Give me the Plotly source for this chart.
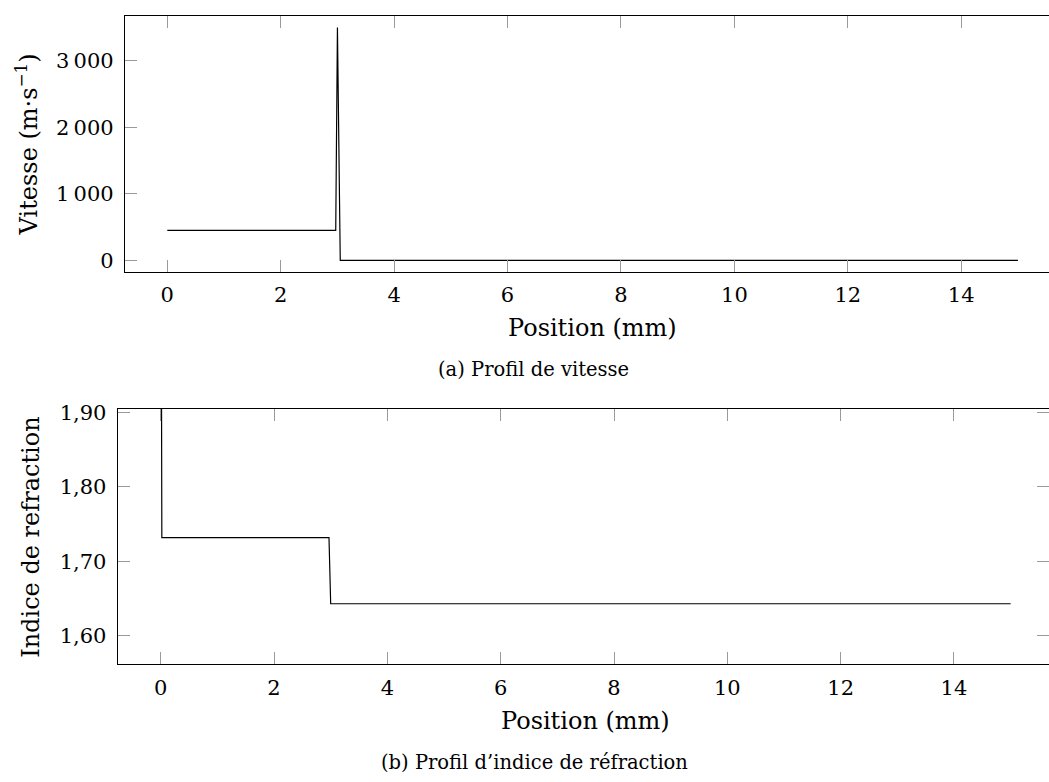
import plotly.graph_objects as go

# ---- data ----
pos_v = [0, 2.97, 3.0, 3.05, 15]
vitesse = [450, 450, 3500, 0, 0]

pos_n = [0, 0.02, 2.97, 3.0, 15]
indice = [2.42, 1.732, 1.732, 1.643, 1.643]

x_ticks = [0, 2, 4, 6, 8, 10, 12, 14]
x_ticktext = ["0", "2", "4", "6", "8", "10", "12", "14"]
v_ticks = [0, 1000, 2000, 3000]
v_ticktext = ["0", "1\u2009000", "2\u2009000", "3\u2009000"]
n_ticks = [1.6, 1.7, 1.8, 1.9]
n_ticktext = ["1,60", "1,70", "1,80", "1,90"]

W, H = 1049, 782
FONT = "DejaVu Serif"
TICKCOL = "#9a9a9a"


def px(x):
    return x / W


def py(y):
    return 1 - y / H


fig = go.Figure()
fig.add_trace(go.Scatter(x=pos_v, y=vitesse, mode="lines",
                         line=dict(color="black", width=1.2),
                         xaxis="x", yaxis="y", showlegend=False))
fig.add_trace(go.Scatter(x=pos_n, y=indice, mode="lines",
                         line=dict(color="black", width=1.2),
                         xaxis="x2", yaxis="y2", showlegend=False))
fig.add_trace(go.Scatter(x=[None], y=[None], mode="lines",
                         xaxis="x2", yaxis="y3", showlegend=False,
                         hoverinfo="skip"))

common_x = dict(showgrid=False, zeroline=False, showline=True, linecolor="black",
                linewidth=1.2, mirror="ticks", ticks="inside", ticklen=12,
                tickcolor=TICKCOL, tickwidth=1, tickvals=x_ticks,
                ticktext=x_ticktext, tickfont=dict(family=FONT, size=21, color="black"),
                ticklabelstandoff=4)
common_y = dict(showgrid=False, zeroline=False, showline=True, linecolor="black",
                linewidth=1.2, mirror=False, ticks="inside", ticklen=12,
                tickcolor=TICKCOL, tickwidth=1,
                tickfont=dict(family=FONT, size=21, color="black"),
                ticklabelstandoff=6)

fig.update_layout(
    width=W, height=H,
    margin=dict(l=0, r=0, t=0, b=0, pad=0),
    paper_bgcolor="white", plot_bgcolor="white",
    font=dict(family=FONT, color="black"),
    xaxis=dict(common_x, domain=[px(125), 1], range=[-0.746, 15.548], anchor="y"),
    yaxis=dict(common_y, domain=[py(266.7), py(8.3)], range=[-169, 3668],
               tickvals=v_ticks, ticktext=v_ticktext, anchor="x"),
    xaxis2=dict(common_x, domain=[px(117.7), 1], range=[-0.759, 15.677], anchor="y2"),
    yaxis2=dict(common_y, domain=[py(664), py(405.7)], range=[1.5615, 1.9048],
                tickvals=n_ticks, ticktext=n_ticktext, anchor="x2"),
    yaxis3=dict(showgrid=False, zeroline=False, showline=False, overlaying="y2",
                side="right", anchor="x2", range=[1.5615, 1.9048], ticks="inside",
                ticklen=12, tickcolor=TICKCOL, tickwidth=1, tickvals=n_ticks,
                showticklabels=False),
)

ann = [
    dict(text="Position (mm)", x=px(592), y=py(324), font=dict(size=24)),
    dict(text="Position (mm)", x=px(585), y=py(721), font=dict(size=24)),
    dict(text="(a) Profil de vitesse", x=px(533), y=py(366), font=dict(size=19.5)),
    dict(text="(b) Profil d\u2019indice de réfraction", x=px(534), y=py(763), font=dict(size=19.5)),
    dict(text="Vitesse (m\u00b7s<sup>\u22121</sup>)", x=px(27), y=py(138), textangle=-90,
         font=dict(size=24)),
    dict(text="Indice de refraction", x=px(31), y=py(536), textangle=-90,
         font=dict(size=24)),
]
for a in ann:
    fig.add_annotation(xref="paper", yref="paper", xanchor="center", yanchor="middle",
                       showarrow=False, font_family=FONT, font_color="black", **a)

fig.write_html("out.html", config={"displayModeBar": False},
               post_script="document.body.style.margin='0';document.body.style.padding='0';")
